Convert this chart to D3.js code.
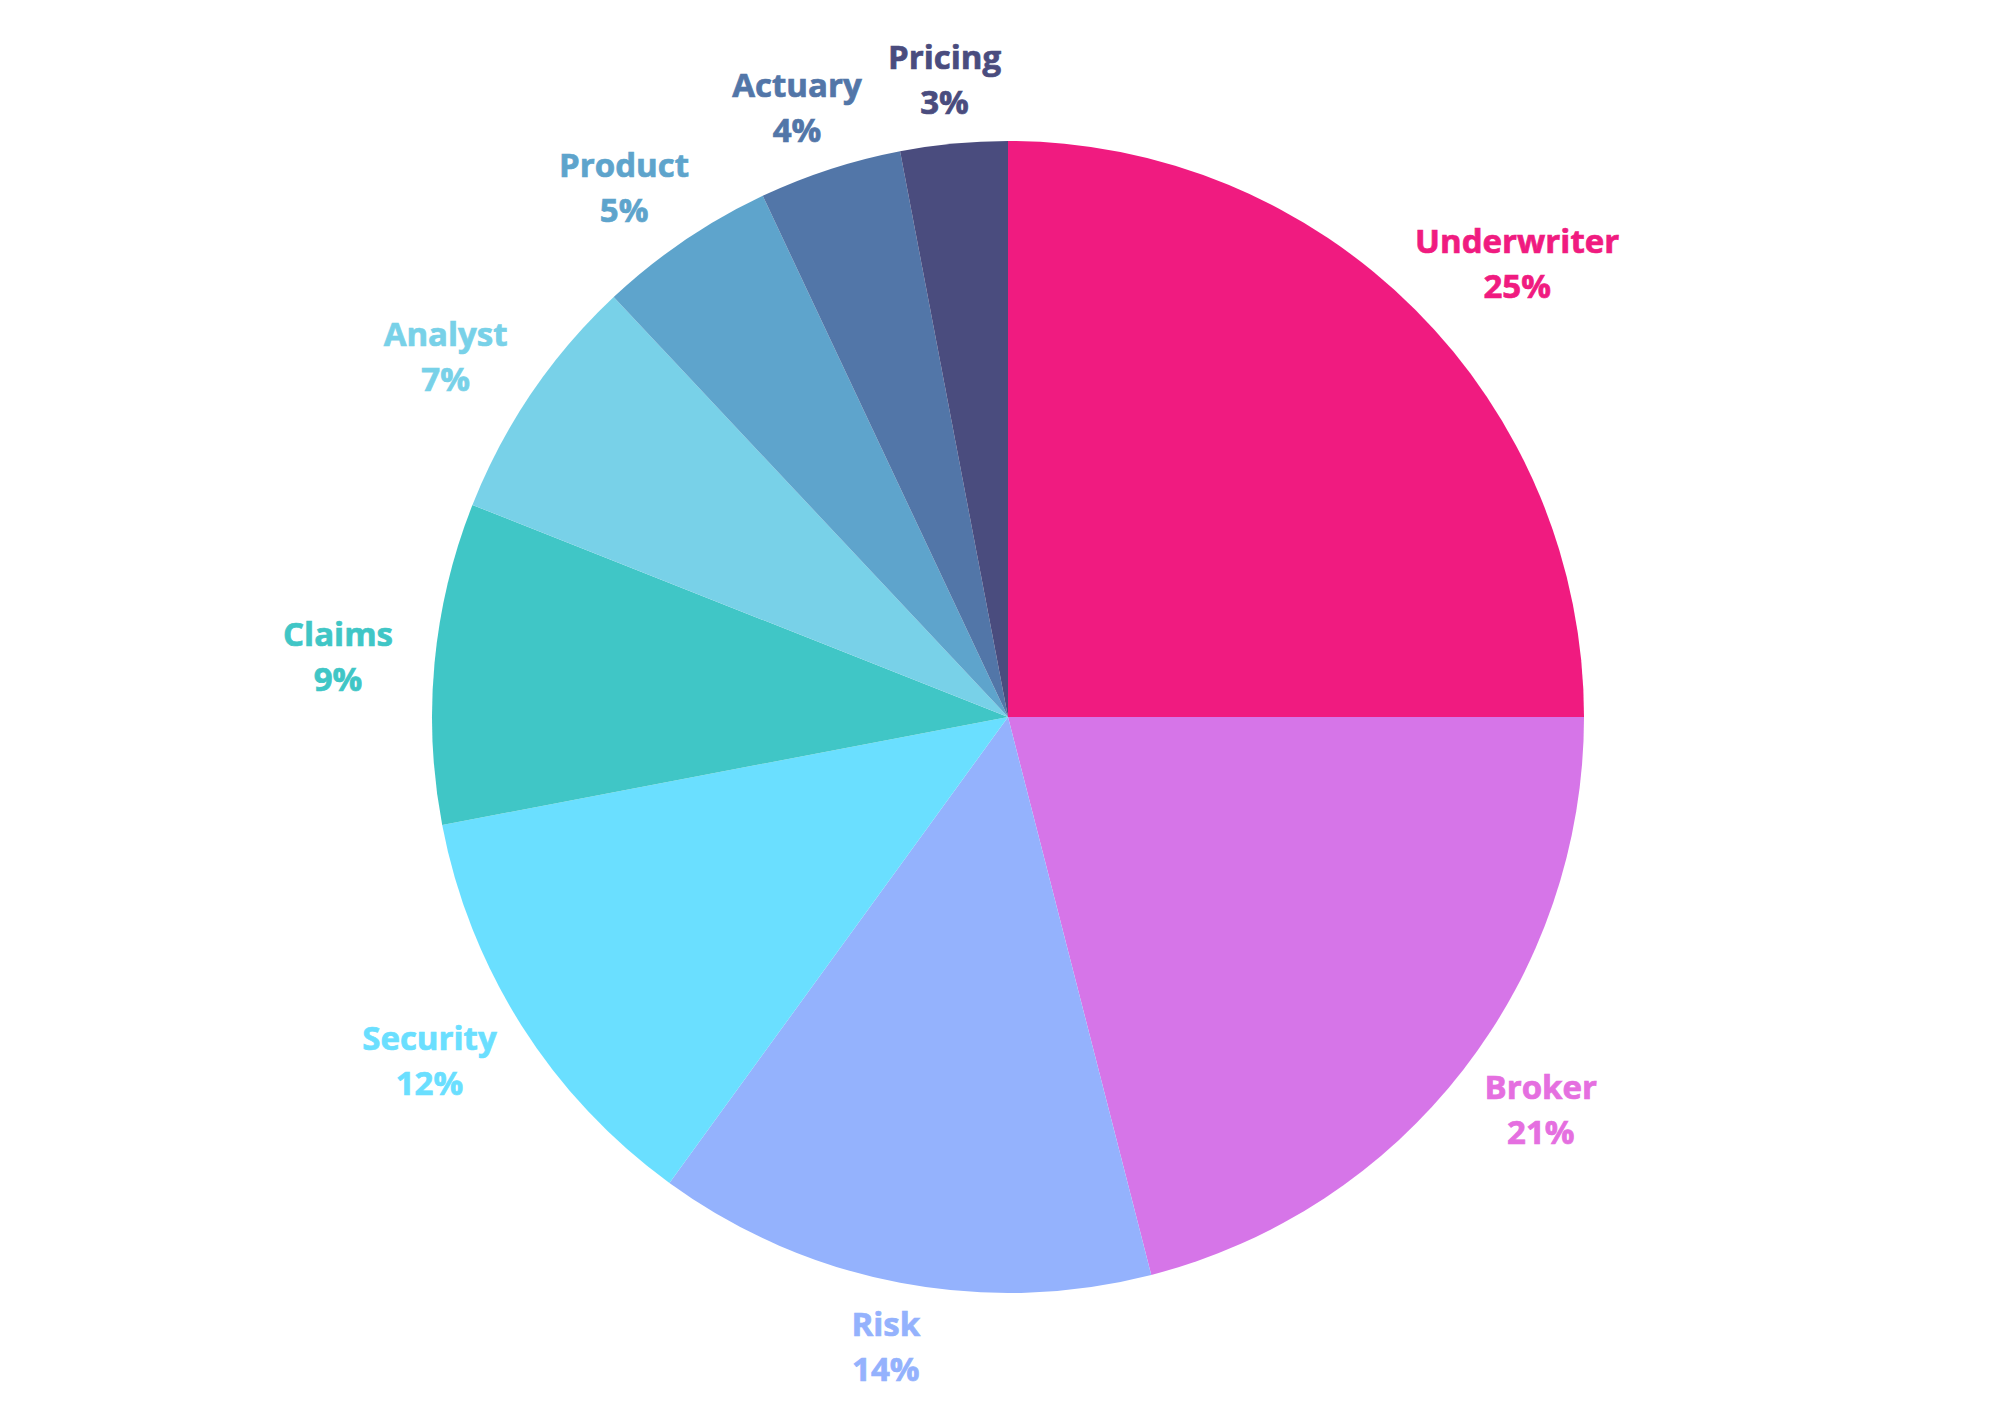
<!DOCTYPE html>
<html><head><meta charset="utf-8">
<script src="https://cdn.jsdelivr.net/npm/d3@7"></script>
<style>
html,body{margin:0;padding:0;background:#fff;}
svg text{font-family:"Open Sans",sans-serif;font-weight:700;}
</style></head>
<body>
<svg id="chart" width="2000" height="1414"></svg>
<script>
const categories = ["Underwriter","Broker","Risk","Security","Claims","Analyst","Product","Actuary","Pricing"];
const values = [25,21,14,12,9,7,5,4,3];
const colors = ["#F01B80","#D675E8","#94B2FD","#6ADFFF","#40C6C6","#78D1E8","#5EA4CC","#5276A8","#4A4C7E"];
const labelColors = ["#F01B80","#E56FE0","#94B2FD","#6ADFFF","#40C6C6","#78D1E8","#5EA4CC","#5276A8","#4A4C7E"];

const svg = d3.select("#chart");
const cx = 1008, cy = 717, radius = 576, labelR = 618;
const fontSize = 33, lineH = 45;

const data = categories.map((c,i)=>({name:c, value:values[i], color:colors[i], lc:labelColors[i]}));
const pie = d3.pie().value(d=>d.value).sort(null);
const arcs = pie(data);
const arc = d3.arc().innerRadius(0).outerRadius(radius);

const g = svg.append("g").attr("transform",`translate(${cx},${cy})`);
g.selectAll("path").data(arcs).join("path")
  .attr("d",arc).attr("fill",d=>d.data.color);

const lab = g.selectAll("g.lab").data(arcs).join("g").attr("class","lab");
lab.append("text").attr("class","n")
  .attr("text-anchor","middle").attr("font-size",fontSize)
  .attr("fill",d=>d.data.lc).attr("stroke",d=>d.data.lc).attr("stroke-width",0.7)
  .text(d=>d.data.name);
lab.append("text").attr("class","v")
  .attr("text-anchor","middle").attr("font-size",fontSize)
  .attr("fill",d=>d.data.lc).attr("stroke",d=>d.data.lc).attr("stroke-width",0.7)
  .text(d=>d.data.value+"%");

lab.each(function(d){
  const a = (d.startAngle+d.endAngle)/2;
  const s = Math.sin(a), c = -Math.cos(a);
  const w = d3.select(this).select("text.n").node().getComputedTextLength();
  const h = lineH;
  const x = labelR*s + (w/2)*s;
  const y = labelR*c + (h/2)*c;
  d3.select(this).select("text.n").attr("x",x).attr("y",y - lineH/2 + fontSize*0.36);
  d3.select(this).select("text.v").attr("x",x).attr("y",y + lineH/2 + fontSize*0.36);
});
</script>
</body></html>
